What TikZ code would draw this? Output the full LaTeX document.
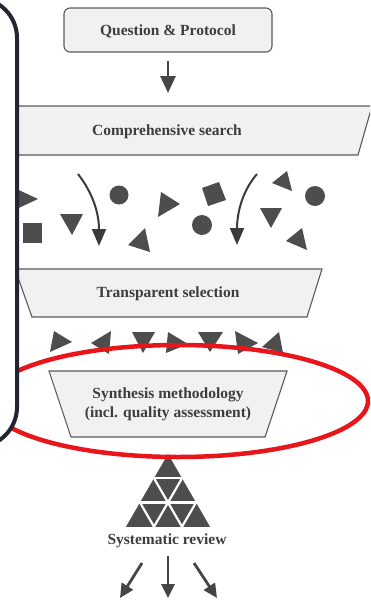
\documentclass[tikz,border=0pt]{standalone}
\usepackage{fontspec}
\setmainfont{Liberation Serif}
\usetikzlibrary{arrows.meta}
\definecolor{ink}{HTML}{3D3D3D}
\definecolor{boxfill}{HTML}{F1F1F1}
\definecolor{boxline}{HTML}{5A5A5A}
\definecolor{piecegray}{HTML}{4D4D4D}
\definecolor{arrowgray}{HTML}{454545}
\definecolor{framecol}{HTML}{23252F}
\definecolor{ringred}{HTML}{E8151B}
\begin{document}
\begin{tikzpicture}[x=1pt,y=-1pt,
  txt/.style={font=\bfseries\fontsize{15.5}{19.5}\selectfont, text=ink,
    inner sep=0pt, anchor=base, align=center},
  stage/.style={fill=boxfill, draw=boxline, line width=1.1pt, line join=miter},
  piece/.style={fill=piecegray, draw=none},
  flow/.style={draw=arrowgray, line width=2.6pt,
    -{Triangle[length=17pt,width=15pt]}},
  curvedarrow/.style={draw=arrowgray!85!black, line width=2pt,
    -{Triangle[length=17pt,width=14pt]}},
  fan/.style={draw=arrowgray, line width=2.8pt,
    -{Triangle[length=14pt,width=13pt]}}
]
\clip (0,0) rectangle (370,600);

% ---- stage boxes -------------------------------------------------
\node[draw=boxline, fill=boxfill, line width=1.1pt, rounded corners=6pt,
      minimum width=208pt, minimum height=44pt, inner sep=0pt] (q) at (168,30) {};
\node[txt] (qt) at (168,35) {Question \& Protocol};

\draw[stage] (-34,106) -- (372,106) -- (358,155) -- (-22,155) -- cycle;
\coordinate (csTop) at (168,106);
\node[txt] (cs) at (167,135) {Comprehensive search};

\draw[stage] (15,269) -- (322,269) -- (307,317) -- (32,317) -- cycle;
\node[txt] (ts) at (168,297) {Transparent selection};

\draw[stage] (49,371) -- (287,371) -- (265,437) -- (71,437) -- cycle;
% base anchor of a two-line node sits on its last line
\node[txt] (sm) at (168,417.5) {Synthesis methodology\\(incl. quality assessment)};

\draw[flow, shorten <=8pt, shorten >=13pt] (q.south) -- (csTop);

% ---- search results scattered between search and selection ------
\fill[piece] (10,186) -- (10,212) -- (38,199) -- cycle;
\fill[piece] (23,223) rectangle (42,243);
\fill[piece] (60,214) -- (83,214) -- (72,235) -- cycle;
\fill[piece] (119,195) circle[radius=9.5pt];
\fill[piece] (161,192) -- (158,217) -- (180,204) -- cycle;
\fill[piece] (145,228) -- (128,245) -- (150,252) -- cycle;
\fill[piece] (202,188) -- (219,182) -- (226,200) -- (208,206) -- cycle;
\fill[piece] (202,225) circle[radius=10pt];
\fill[piece] (272,183) -- (287,171) -- (292,191) -- cycle;
\fill[piece] (315,196) circle[radius=10pt];
\fill[piece] (260,208) -- (282,208) -- (271,228) -- cycle;
\fill[piece] (286,241) -- (302,228) -- (307,250) -- cycle;

\coordinate (b1s) at (78,174);  \coordinate (b1e) at (99,246);
\coordinate (b2s) at (257,174); \coordinate (b2e) at (237,245);
\draw[curvedarrow] (b1s) .. controls (92,192) and (99,212) .. (b1e);
\draw[curvedarrow] (b2s) .. controls (243,190) and (237,212) .. (b2e);

% ---- selected studies -------------------------------------------
\fill[piece] (54,331) -- (50,352) -- (72,342) -- cycle;
\fill[piece] (91,343) -- (111,331) -- (109,354) -- cycle;
\fill[piece] (132,332) -- (155,332) -- (143,353) -- cycle;
\fill[piece] (168,332) -- (166,353) -- (188,344) -- cycle;
\fill[piece] (198,332) -- (223,332) -- (210,352) -- cycle;
\fill[piece] (235,331) -- (238,354) -- (258,343) -- cycle;
\fill[piece] (262,347) -- (279,332) -- (283,353) -- cycle;

% ---- pyramid of evidence ----------------------------------------
\coordinate (pa) at (168,454);
\coordinate (pb) at (126,526.75);
\coordinate (pc) at (210,526.75);
\fill[piece] (pa) -- (pb) -- (pc) -- cycle;
\begin{scope}[draw=white, line width=2.2pt]
  \draw (154,478.25) -- (182,478.25);
  \draw (140,502.5) -- (196,502.5);
  \draw (154,478.25) -- (182,526.75);
  \draw (140,502.5) -- (154,526.75);
  \draw (182,478.25) -- (154,526.75);
  \draw (196,502.5) -- (182,526.75);
\end{scope}
\node[txt] (sr) at (167,544) {Systematic review};

\coordinate (f1s) at (142,563); \coordinate (f1e) at (120,598);
\coordinate (f2s) at (168,556); \coordinate (f2e) at (168,598);
\coordinate (f3s) at (194,563); \coordinate (f3e) at (217,598);
\draw[fan] (f1s) -- (f1e);
\draw[fan] (f2s) -- (f2e);
\draw[fan] (f3s) -- (f3e);

% ---- highlight ring ---------------------------------------------
\draw[ringred, line width=4.5pt] (178,401) ellipse [x radius=190pt, y radius=56pt];

% ---- side panel edge --------------------------------------------
\draw[framecol, fill=white, line width=4pt, rounded corners=40pt]
  (-200,-2) rectangle (17,447);
\end{tikzpicture}
\end{document}
